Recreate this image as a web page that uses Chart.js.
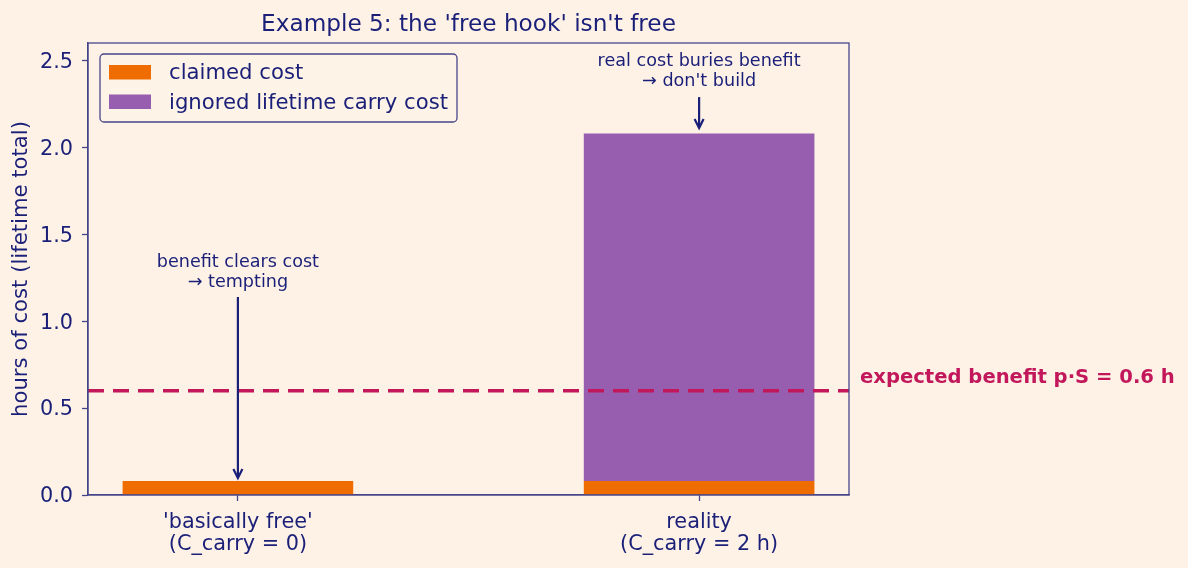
<!DOCTYPE html>
<html>
<head>
<meta charset="utf-8">
<script src="https://cdn.jsdelivr.net/npm/chart.js@4.4.1/dist/chart.umd.min.js"></script>
<style>
  html, body { margin: 0; padding: 0; background: #fef2e7; }
  #wrap { width: 1188px; height: 568px; }
</style>
</head>
<body>
<div id="wrap"><canvas id="chart"></canvas></div>
<script>
// data
const categories = [["'basically free'", "(C_carry = 0)"], ["reality", "(C_carry = 2 h)"]];
const claimedCost = [0.08, 0.08];
const carryCost = [0, 2.0];
const seriesLabels = ['claimed cost', 'ignored lifetime carry cost'];
const yTicks = [0, 0.5, 1.0, 1.5, 2.0, 2.5];
const benefit = 0.6;

// annotations: text lines, arrow from -> to (in data units)
const notes = [
    { x: 0, lines: ['benefit clears cost', '\u2192 tempting'], textY: 1.346, from: 1.139, to: 0.098 },
    { x: 1, lines: ['real cost buries benefit', '\u2192 don\'t build'], textY: 2.502, from: 2.289, to: 2.111 }
];

const navy = '#1a1f78';
const spine = '#45458a';
const crimson = '#c2185b';
const colors = ['#ef6c00', '#975daf'];
const FONT = '"DejaVu Sans", sans-serif';

const bgPlugin = {
    id: 'bg',
    beforeDraw(chart) {
        const ctx = chart.ctx;
        ctx.save();
        ctx.fillStyle = '#fef2e7';
        ctx.fillRect(0, 0, chart.width, chart.height);
        ctx.restore();
    }
};

const overlayPlugin = {
    id: 'overlay',
    afterDatasetsDraw(chart) {
        const ctx = chart.ctx;
        const xs = chart.scales.x, ys = chart.scales.y;
        const area = chart.chartArea;
        ctx.save();

        // benefit line
        const by = ys.getPixelForValue(benefit);
        ctx.strokeStyle = crimson;
        ctx.lineWidth = 3.5;
        ctx.setLineDash([16, 9]);
        ctx.beginPath();
        ctx.moveTo(area.left, by);
        ctx.lineTo(area.right, by);
        ctx.stroke();
        ctx.setLineDash([]);

        ctx.fillStyle = crimson;
        ctx.font = 'bold 19.6px ' + FONT;
        ctx.textAlign = 'left';
        ctx.textBaseline = 'middle';
        ctx.fillText('expected benefit p\u00b7S = ' + benefit + ' h', area.right + 11, by - 13);

        // notes + arrows
        notes.forEach(n => {
            const px = xs.getPixelForValue(n.x);
            const ty = ys.getPixelForValue(n.textY);
            ctx.fillStyle = navy;
            ctx.font = '17.6px ' + FONT;
            ctx.textAlign = 'center';
            n.lines.forEach((l, i) => ctx.fillText(l, px, ty + 1 + i * 20.5));

            const y1 = ys.getPixelForValue(n.from), y2 = ys.getPixelForValue(n.to);
            ctx.strokeStyle = navy;
            ctx.lineWidth = 2.2;
            ctx.beginPath();
            ctx.moveTo(px, y1);
            ctx.lineTo(px, y2 - 1);
            ctx.stroke();
            ctx.beginPath();
            ctx.moveTo(px - 4.5, y2 - 9);
            ctx.lineTo(px, y2);
            ctx.lineTo(px + 4.5, y2 - 9);
            ctx.stroke();
        });

        // legend box
        const lx = area.left + 12, ly = area.top + 11;
        ctx.strokeStyle = spine;
        ctx.lineWidth = 1.3;
        ctx.fillStyle = 'rgba(254,242,231,0.8)';
        ctx.beginPath();
        ctx.roundRect(lx, ly, 357, 68, 4);
        ctx.fill();
        ctx.stroke();
        ctx.font = '21.2px ' + FONT;
        ctx.textAlign = 'left';
        seriesLabels.forEach((lab, i) => {
            const ry = ly + 18 + i * 29.5;
            ctx.fillStyle = colors[i];
            ctx.fillRect(lx + 9, ry - 7, 42, 14.5);
            ctx.fillStyle = navy;
            ctx.fillText(lab, lx + 69, ry + 1.5);
        });

        // title
        ctx.fillStyle = navy;
        ctx.font = '23.2px ' + FONT;
        ctx.textAlign = 'center';
        ctx.fillText("Example 5: the 'free hook' isn't free", (area.left + area.right) / 2, 25);

        ctx.restore();
    }
};

const framePlugin = {
    id: 'frame',
    afterDraw(chart) {
        const a = chart.chartArea, ctx = chart.ctx;
        ctx.save();
        ctx.strokeStyle = spine;
        ctx.lineWidth = 1.3;
        ctx.strokeRect(a.left, a.top, a.right - a.left, a.bottom - a.top);
        ctx.restore();
    }
};

new Chart(document.getElementById('chart'), {
    type: 'bar',
    data: {
        datasets: [
            {
                label: seriesLabels[0],
                data: claimedCost.map((v, i) => ({ x: i, y: v })),
                backgroundColor: colors[0],
                categoryPercentage: 1,
                barPercentage: 0.5
            },
            {
                label: seriesLabels[1],
                data: carryCost.map((v, i) => ({ x: i, y: v })),
                backgroundColor: colors[1],
                categoryPercentage: 1,
                barPercentage: 0.5
            }
        ]
    },
    options: {
        responsive: true,
        maintainAspectRatio: false,
        animation: false,
        layout: { padding: { left: 0, right: 339, top: 43, bottom: 0 } },
        plugins: {
            legend: { display: false },
            tooltip: { enabled: false },
            title: { display: false }
        },
        scales: {
            x: {
                type: 'linear',
                stacked: true,
                min: -0.325,
                max: 1.325,
                offset: false,
                afterBuildTicks: (axis) => { axis.ticks = categories.map((_, i) => ({ value: i })); },
                afterFit: (axis) => { axis.height = 73; },
                ticks: {
                    callback: (v) => categories[v],
                    color: navy,
                    font: { family: FONT, size: 20.8, lineHeight: 1.07 },
                    maxRotation: 0,
                    autoSkip: false,
                    padding: 10
                },
                grid: { drawOnChartArea: false, offset: false, tickLength: 6, tickColor: spine, tickWidth: 1.3 },
                border: { color: spine, width: 1.3 }
            },
            y: {
                stacked: true,
                min: 0,
                max: 2.6,
                afterBuildTicks: (axis) => { axis.ticks = yTicks.map(v => ({ value: v })); },
                afterFit: (axis) => { axis.width = 88; },
                ticks: {
                    callback: (v) => v.toFixed(1),
                    color: navy,
                    font: { family: FONT, size: 20.8 },
                    padding: 9,
                    labelOffset: 2
                },
                title: {
                    display: true,
                    text: 'hours of cost (lifetime total)',
                    color: navy,
                    font: { family: FONT, size: 21.2, lineHeight: 1.2 },
                    padding: { top: 9, bottom: 0 }
                },
                grid: { drawOnChartArea: false, tickLength: 6, tickColor: spine, tickWidth: 1.3 },
                border: { color: spine, width: 1.3 }
            }
        }
    },
    plugins: [bgPlugin, overlayPlugin, framePlugin]
});
</script>
</body>
</html>
